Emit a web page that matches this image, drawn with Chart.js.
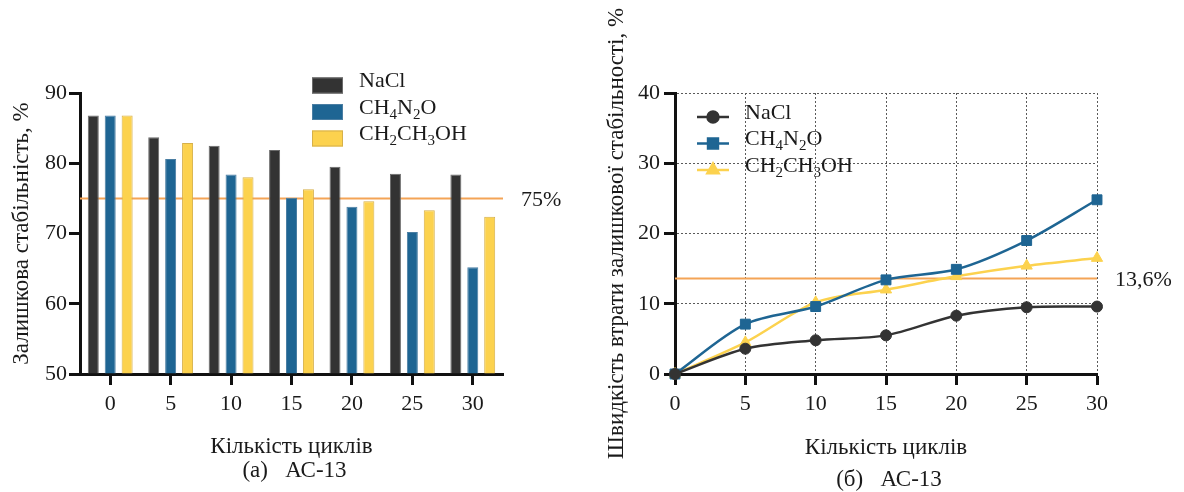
<!DOCTYPE html>
<html>
<head>
<meta charset="utf-8">
<script src="https://cdn.jsdelivr.net/npm/chart.js@4/dist/chart.umd.min.js"></script>
<style>
  html, body { margin: 0; padding: 0; background: #ffffff; }
  #wrap { position: relative; width: 1184px; height: 492px; overflow: hidden; }
  .panel { position: absolute; top: 0; height: 492px; }
  #p1 { left: 0; width: 590px; }
  #p2 { left: 590px; width: 594px; }
</style>
</head>
<body>
<div id="wrap">
  <div class="panel" id="p1"><canvas id="c1"></canvas></div>
  <div class="panel" id="p2"><canvas id="c2"></canvas></div>
</div>
<script>
// ---- data -------------------------------------------------------------
const cycleLabels = ['0', '5', '10', '15', '20', '25', '30'];
const cycles = [0, 5, 10, 15, 20, 25, 30];
const seriesNames = ['NaCl', 'CH₄N₂O', 'CH₂CH₃OH'];

// (а) residual stability, %
const residualNaCl    = [86.8, 83.7, 82.5, 81.9, 79.5, 78.5, 78.4];
const residualUrea    = [86.8, 80.6, 78.4, 75.1, 73.8, 70.2, 65.2];
const residualEthanol = [86.8, 82.9, 78.0, 76.3, 74.6, 73.3, 72.4];
const residualLimit = 75;
const residualLimitText = '75%';
const residualAxis = { min: 50, max: 90, step: 10 };

// (б) rate of residual stability loss, %
const lossNaCl    = [0, 3.6, 4.8, 5.5, 8.3, 9.5, 9.6];
const lossUrea    = [0, 7.1, 9.6, 13.4, 14.9, 19.0, 24.8];
const lossEthanol = [0, 4.5, 10.2, 12.0, 13.9, 15.4, 16.5];
const lossLimit = 13.6;
const lossLimitText = '13,6%';
const lossAxis = { min: 0, max: 40, step: 10 };
const cycleAxis = { min: 0, max: 30, step: 5 };

// ---- styling ----------------------------------------------------------
const FAMILY = '"Liberation Serif", "Times New Roman", "DejaVu Serif", serif';
const INK = '#1a1a1a';
const COLORS = ['#333333', '#1e6593', '#fcd24e'];
const EDGES = ['#6a6a6a', '#4a7ea3', '#d6b04a'];
const LIMIT_COLOR = '#f4a456';
const TITLE_FONT = { size: 23 };

Chart.defaults.font.family = FAMILY;
Chart.defaults.font.size = 22;
Chart.defaults.color = INK;

// text with subscript digits (₀-₉) drawn smaller and lowered
const SUB = { '₀': '0', '₁': '1', '₂': '2', '₃': '3', '₄': '4', '₅': '5', '₆': '6', '₇': '7', '₈': '8', '₉': '9' };
function drawFormula(ctx, text, x, y, size) {
  const main = size + 'px ' + FAMILY;
  const small = Math.round(size * 0.68) + 'px ' + FAMILY;
  let cx = x;
  let run = '';
  let runSub = false;
  const flush = () => {
    if (!run) return;
    ctx.font = runSub ? small : main;
    ctx.fillText(run, cx, runSub ? y + size * 0.24 : y);
    cx += ctx.measureText(run).width;
    run = '';
  };
  for (const ch of text) {
    const isSub = ch in SUB;
    if (isSub !== runSub) { flush(); runSub = isSub; }
    run += isSub ? SUB[ch] : ch;
  }
  flush();
}

// legend drawn with formula subscripts
const formulaLegend = {
  id: 'formulaLegend',
  afterDraw(chart, args, opts) {
    const ctx = chart.ctx;
    ctx.save();
    ctx.textAlign = 'left';
    ctx.textBaseline = 'alphabetic';
    chart.data.datasets.forEach((ds, i) => {
      const cy = opts.y + i * opts.rowGap;
      if (opts.kind === 'box') {
        ctx.fillStyle = ds.backgroundColor;
        ctx.fillRect(opts.x, cy - 8, 31, 16);
        ctx.strokeStyle = ds.borderColor;
        ctx.lineWidth = 1;
        ctx.strokeRect(opts.x + 0.5, cy - 7.5, 30, 15);
      } else {
        ctx.strokeStyle = ds.borderColor;
        ctx.lineWidth = ds.borderWidth;
        ctx.beginPath();
        ctx.moveTo(opts.x, cy);
        ctx.lineTo(opts.x + 32, cy);
        ctx.stroke();
        ctx.fillStyle = ds.backgroundColor;
        Chart.helpers.drawPoint(ctx, {
          pointStyle: ds.pointStyle, radius: ds.pointRadius, rotation: 0, borderWidth: 1
        }, opts.x + 16, cy);
      }
      ctx.fillStyle = INK;
      drawFormula(ctx, ds.label, opts.textX, cy + 1.5, 22);
    });
    ctx.restore();
  }
};

// horizontal reference level with its value written at the right
const limitLine = {
  id: 'limitLine',
  beforeDatasetsDraw(chart, args, opts) {
    const { ctx, chartArea } = chart;
    const y = chart.scales.y.getPixelForValue(opts.value);
    ctx.save();
    ctx.strokeStyle = LIMIT_COLOR;
    ctx.lineWidth = 2;
    ctx.beginPath();
    ctx.moveTo(chartArea.left, y);
    ctx.lineTo(chartArea.right, y);
    ctx.stroke();
    ctx.restore();
  },
  afterDraw(chart, args, opts) {
    const { ctx, chartArea } = chart;
    const y = chart.scales.y.getPixelForValue(opts.value);
    ctx.save();
    ctx.fillStyle = INK;
    ctx.font = '22px ' + FAMILY;
    ctx.textAlign = 'left';
    ctx.textBaseline = 'alphabetic';
    ctx.fillText(opts.text, chartArea.right + 18, y + 8);
    ctx.restore();
  }
};

// panel caption under the axis title
const caption = {
  id: 'caption',
  afterDraw(chart, args, opts) {
    const { ctx, chartArea } = chart;
    ctx.save();
    ctx.fillStyle = INK;
    ctx.font = '23px ' + FAMILY;
    ctx.textAlign = 'center';
    ctx.textBaseline = 'middle';
    ctx.fillText(opts.text, (chartArea.left + chartArea.right) / 2 + 3, opts.y);
    ctx.restore();
  }
};

const axisInk = { color: '#111111', width: 3 };
const tickMarks = { tickLength: 11, tickWidth: 3, tickColor: '#111111' };

// ---- (а) bars ---------------------------------------------------------
const residualSeries = [residualNaCl, residualUrea, residualEthanol];
new Chart(document.getElementById('c1'), {
  type: 'bar',
  data: {
    labels: cycleLabels,
    datasets: residualSeries.map((values, i) => ({
      label: seriesNames[i],
      data: values,
      backgroundColor: COLORS[i],
      borderColor: EDGES[i],
      borderWidth: 1,
      base: residualAxis.min,
      categoryPercentage: 0.84,
      barPercentage: 0.65
    }))
  },
  options: {
    responsive: true,
    maintainAspectRatio: false,
    animation: false,
    devicePixelRatio: 1,
    layout: { padding: { top: 93, right: 87, left: 0, bottom: 0 } },
    plugins: {
      legend: { display: false },
      tooltip: { enabled: false },
      formulaLegend: { kind: 'box', x: 312, y: 85.5, rowGap: 26.5, textX: 359 },
      limitLine: { value: residualLimit, text: residualLimitText },
      caption: { text: '(а)   АС-13', y: 471 }
    },
    scales: {
      x: {
        grid: Object.assign({ display: true, drawOnChartArea: false, offset: false }, tickMarks),
        border: axisInk,
        ticks: { padding: 6, maxRotation: 0, autoSkip: false },
        title: { display: true, text: 'Кількість циклів', font: TITLE_FONT, padding: { top: 0, bottom: 31 } },
        afterFit(scale) { scale.height = 118; }
      },
      y: {
        min: residualAxis.min,
        max: residualAxis.max,
        ticks: { stepSize: residualAxis.step, padding: 2 },
        grid: Object.assign({ display: true, drawOnChartArea: false }, tickMarks),
        border: axisInk,
        title: { display: true, text: 'Залишкова стабільність, %', font: TITLE_FONT, padding: { top: 8, bottom: 0 } },
        afterFit(scale) { scale.width = 80; }
      }
    }
  },
  plugins: [limitLine, formulaLegend, caption]
});

// ---- (б) lines --------------------------------------------------------
const lossSeries = [lossNaCl, lossUrea, lossEthanol];
const markerStyles = ['circle', 'rect', 'triangle'];
const markerSizes = [5.5, 7, 6.5];
new Chart(document.getElementById('c2'), {
  type: 'line',
  data: {
    datasets: lossSeries.map((values, i) => ({
      label: seriesNames[i],
      data: cycles.map((c, k) => ({ x: c, y: values[k] })),
      borderColor: COLORS[i],
      backgroundColor: COLORS[i],
      borderWidth: 2.5,
      pointStyle: markerStyles[i],
      pointRadius: markerSizes[i],
      pointBorderWidth: 1,
      tension: 0.3,
      fill: false,
      clip: false
    }))
  },
  options: {
    responsive: true,
    maintainAspectRatio: false,
    animation: false,
    devicePixelRatio: 1,
    layout: { padding: { top: 93, right: 87, left: 0, bottom: 0 } },
    plugins: {
      legend: { display: false },
      tooltip: { enabled: false },
      formulaLegend: { kind: 'line', x: 107, y: 117, rowGap: 26.5, textX: 155 },
      limitLine: { value: lossLimit, text: lossLimitText },
      caption: { text: '(б)   АС-13', y: 480 }
    },
    scales: {
      x: {
        type: 'linear',
        min: cycleAxis.min,
        max: cycleAxis.max,
        ticks: { stepSize: cycleAxis.step, padding: 6, maxRotation: 0, autoSkip: false },
        grid: Object.assign({ display: true, drawOnChartArea: true, color: '#5a5a5a', lineWidth: 1 }, tickMarks),
        border: Object.assign({ dash: [2, 2] }, axisInk),
        title: { display: true, text: 'Кількість циклів', font: TITLE_FONT, padding: { top: 0, bottom: 30 } },
        afterFit(scale) { scale.height = 118; }
      },
      y: {
        min: lossAxis.min,
        max: lossAxis.max,
        ticks: { stepSize: lossAxis.step, padding: 4 },
        grid: Object.assign({ display: true, drawOnChartArea: true, color: '#5a5a5a', lineWidth: 1 }, tickMarks),
        border: Object.assign({ dash: [2, 2] }, axisInk),
        title: { display: true, text: 'Швидкість втрати залишкової стабільності, %', font: TITLE_FONT, padding: { top: 13, bottom: 0 } },
        afterFit(scale) { scale.width = 85; }
      }
    }
  },
  plugins: [limitLine, formulaLegend, caption]
});
</script>
</body>
</html>
